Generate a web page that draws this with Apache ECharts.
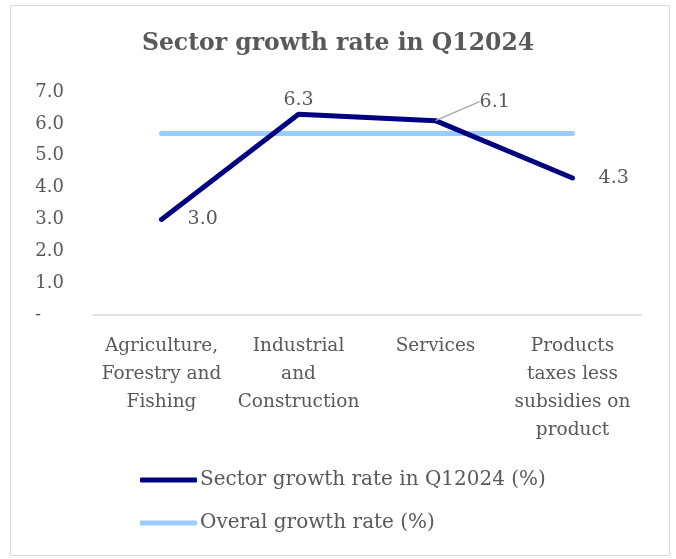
<!DOCTYPE html>
<html><head><meta charset="utf-8">
<script src="https://cdn.jsdelivr.net/npm/echarts@6/dist/echarts.min.js"></script>
<style>html,body{margin:0;padding:0;background:#fff}#c{width:676px;height:559px}</style>
</head><body><div id="c"></div>
<script>
const categories = ['Agriculture,\nForestry and\nFishing', 'Industrial\nand\nConstruction', 'Services', 'Products\ntaxes less\nsubsidies on\nproduct'];
const sectorGrowth = [3.0, 6.3, 6.1, 4.3];
const overallGrowth = [5.7, 5.7, 5.7, 5.7];
const yTicks = [0, 1, 2, 3, 4, 5, 6, 7];
const seriesNames = ['Sector growth rate in Q12024 (%)', 'Overal growth rate (%)'];

const FONT = 'DejaVu Serif';
const TXT = '#595959';
const chart = echarts.init(document.getElementById('c'), null, {renderer: 'canvas'});
chart.setOption({
  animation: false,
  backgroundColor: '#fff',
  graphic: [{type: 'rect', left: 8, top: 3, shape: {width: 659, height: 550}, style: {fill: 'none', stroke: '#d9d9d9', lineWidth: 1}}],
  title: {text: 'Sector growth rate in Q12024', left: 'center', top: 27,
    textStyle: {fontFamily: FONT, fontSize: 23.5, fontWeight: 'bold', color: TXT}},
  grid: {left: 93, right: 35, top: 92, bottom: 244},
  xAxis: {type: 'category', data: categories, boundaryGap: true,
    axisLine: {lineStyle: {color: '#d9d9d9', width: 1.5}}, axisTick: {show: false},
    axisLabel: {interval: 0, margin: 17, fontFamily: FONT, fontSize: 18.5, color: TXT, lineHeight: 28, align: 'center'}},
  yAxis: {type: 'value', min: yTicks[0], max: yTicks[yTicks.length - 1], interval: 1,
    splitLine: {show: false}, axisLine: {show: false}, axisTick: {show: false},
    axisLabel: {margin: 29, fontFamily: FONT, fontSize: 18, color: TXT,
      formatter: v => v === 0 ? '-    ' : v.toFixed(1)}},
  legend: {orient: 'vertical', left: 140, top: 470, padding: 0, itemWidth: 57, itemHeight: 5, itemGap: 23,
    icon: 'roundRect',
    textStyle: {fontFamily: FONT, fontSize: 20, lineHeight: 20, color: TXT, padding: [0, 0, 0, -2]},
    data: seriesNames},
  series: [
    {name: seriesNames[0], type: 'line', symbol: 'circle', symbolSize: 0.1, showSymbol: true, z: 3,
      lineStyle: {color: '#000080', width: 5, cap: 'round'}, itemStyle: {color: '#000080'},
      label: {show: true, fontFamily: FONT, fontSize: 19, color: TXT, formatter: p => p.value.toFixed(1)},
      labelLine: {show: false, lineStyle: {color: '#a6a6a6', width: 1.2}},
      data: sectorGrowth.map((v, i) => ({value: v,
        label: {position: i === 1 ? 'top' : 'right', distance: i === 1 ? 5 : 26},
        labelLine: {show: i === 2, lineStyle: {color: '#a6a6a6', width: 1.2}}})),
      labelLayout: p => p.dataIndex === 2 ? {dx: 18, dy: -19} : {}
    },
    {name: seriesNames[1], type: 'line', data: overallGrowth, symbol: 'none', z: 2,
      lineStyle: {color: '#99ccff', width: 5, cap: 'round'}, itemStyle: {color: '#99ccff'}}
  ]
});
</script></body></html>
